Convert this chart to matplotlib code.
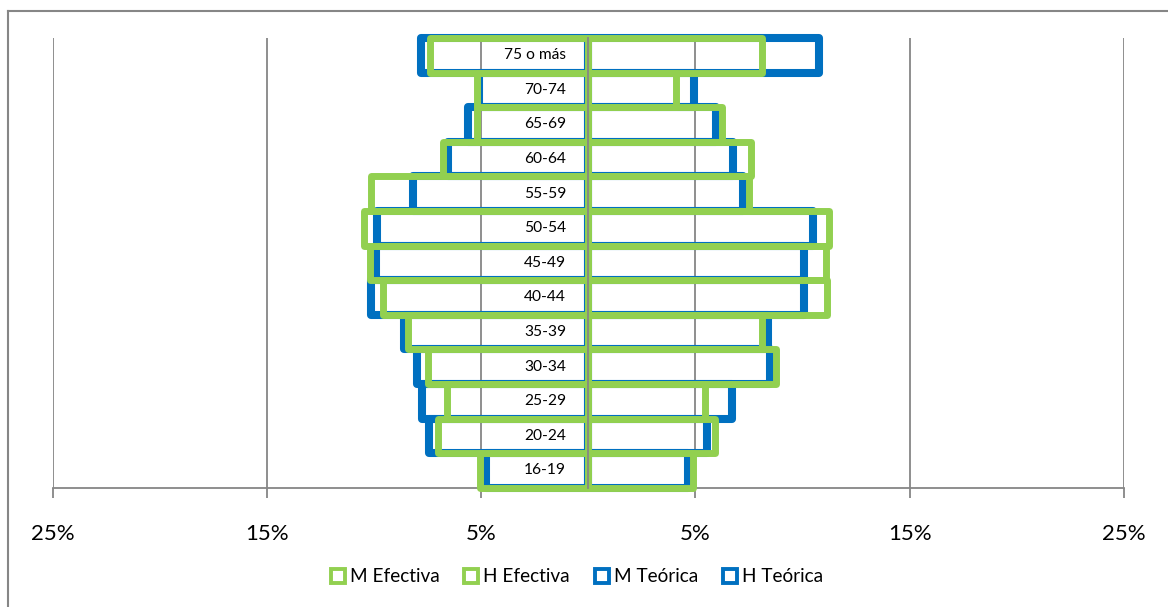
import matplotlib
matplotlib.use('Agg')
import matplotlib.pyplot as plt
from matplotlib.patches import Rectangle
from matplotlib.lines import Line2D


# ---------------------------------------------------------------------------
# Data: share of each age group (%), hombres to the left, mujeres to the right
# ---------------------------------------------------------------------------

age_groups = ['16-19', '20-24', '25-29', '30-34', '35-39', '40-44', '45-49',
              '50-54', '55-59', '60-64', '65-69', '70-74', '75 o más']

h_efectiva = [5.05, 7.0, 6.6, 7.5, 8.4, 9.6, 10.2, 10.45, 10.15, 6.8, 5.2, 5.2, 7.4]
m_efectiva = [4.9, 5.9, 5.45, 8.75, 8.1, 11.15, 11.1, 11.25, 7.5, 7.6, 6.25, 4.1, 8.1]
h_teorica  = [4.8, 7.45, 7.75, 8.0, 8.6, 10.15, 9.9, 9.85, 8.2, 6.55, 5.6, 5.1, 7.8]
m_teorica  = [4.65, 5.55, 6.7, 8.5, 8.4, 10.05, 10.05, 10.5, 7.2, 6.75, 5.95, 4.95, 10.75]

x_ticks       = [-25, -15, -5, 5, 15, 25]
x_tick_labels = ['25%', '15%', '5%', '5%', '15%', '25%']

legend_labels = ['M Efectiva', 'H Efectiva', 'M Teórica', 'H Teórica']

GREEN = '#92D050'
BLUE  = '#0070C0'
GREY  = '#868686'

plt.rcParams['font.family'] = ['Lato', 'DejaVu Sans']

W, H = 1168, 607
fig = plt.figure(figsize=(W / 100, H / 100), dpi=100)
ax = fig.add_axes([52.7 / W, 1 - 487.7 / H, (1124 - 52.7) / W, (487.7 - 38) / H])

ypos = list(range(len(age_groups)))


def outline_bars(values, sign, color, lw, z):
    """Hollow bars spanning the whole category slot, with rounded corners."""
    bars = ax.barh(ypos, [sign * v for v in values], height=1.0, fill=False,
                   edgecolor=color, linewidth=lw, zorder=z, clip_on=False)
    for b in bars:
        b.set_joinstyle('round')


# theoretical pyramid underneath, observed one on top
outline_bars(h_teorica, -1, BLUE, 5.8, 2)
outline_bars(m_teorica, 1, BLUE, 5.8, 2)
outline_bars(h_efectiva, -1, GREEN, 5.0, 3)
outline_bars(m_efectiva, 1, GREEN, 5.0, 3)

# ---------------------------------------------------------------------------
# Axes
# ---------------------------------------------------------------------------

ax.set_xlim(-25, 25)
ax.set_ylim(-0.5, len(age_groups) - 0.5)

ax.set_axisbelow(True)
ax.xaxis.grid(True, color=GREY, linewidth=1.3)

ax.set_xticks(x_ticks, x_tick_labels)
ax.tick_params(axis='x', length=7, width=1.3, color=GREY, pad=19, labelsize=16)

ax.set_yticks([i - 0.5 for i in range(len(age_groups) + 1)])
ax.set_yticklabels([])
ax.tick_params(axis='y', length=3, width=1.3, color=GREY)

ax.spines['left'].set_position(('data', 0))
ax.spines['left'].set_zorder(5)
for side in ('left', 'bottom'):
    ax.spines[side].set_color(GREY)
    ax.spines[side].set_linewidth(1.3)
ax.spines['top'].set_visible(False)
ax.spines['right'].set_visible(False)

for i, g in enumerate(age_groups):
    ax.annotate(g, xy=(0, i), xytext=(-16, 0), textcoords='offset points',
                ha='right', va='center', fontsize=11.2, zorder=6)

# chart frame
fig.add_artist(Line2D([8 / W, 1], [1 - 11 / H] * 2, color=GREY, lw=1.5))
fig.add_artist(Line2D([8 / W] * 2, [0, 1 - 11 / H], color=GREY, lw=1.5))

# ---------------------------------------------------------------------------
# Legend
# ---------------------------------------------------------------------------

handles = [Rectangle((0, 0), 1, 1, facecolor='white', edgecolor=c, linewidth=2.8)
           for c in (GREEN, GREEN, BLUE, BLUE)]
fig.legend(handles, legend_labels, loc='center', bbox_to_anchor=(0.494, 1 - 577 / H),
           ncol=4, frameon=False, fontsize=13.7, handlelength=0.72, handleheight=0.72,
           handletextpad=0.28, columnspacing=1.3)

fig.savefig('out.png', dpi=100)
